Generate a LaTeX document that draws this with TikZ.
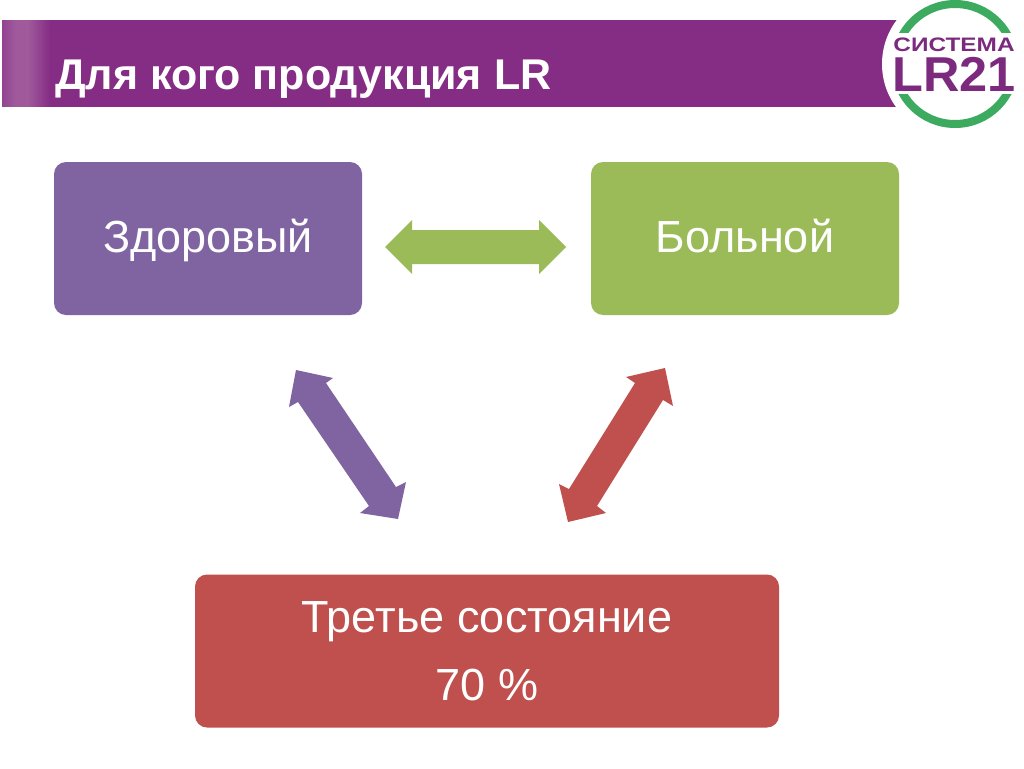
\documentclass[tikz,border=0pt]{standalone}
\usepackage{fontspec}
\setmainfont{Liberation Sans}
\definecolor{bannerc}{HTML}{852C84}
\definecolor{bannerl}{HTML}{A05A9C}
\definecolor{logotxt}{HTML}{7B2A7E}
\definecolor{purplebox}{HTML}{8064A2}
\definecolor{greenbox}{HTML}{9BBB59}
\definecolor{redbox}{HTML}{C0504D}
\definecolor{ringc}{HTML}{3CAA5F}
\tikzset{
 card/.style={rounded corners=12pt,text=white,inner sep=0pt,minimum height=153pt},
 cardtext/.style={font=\fontsize{45}{68}\selectfont,text height=32pt,text depth=5pt},
 logotext/.style={text=logotxt,inner sep=0pt,transform shape,text depth=0pt},
}
\begin{document}
\begin{tikzpicture}[x=1pt,y=-1pt]
\useasboundingbox (0,0) rectangle (1024,768);
\fill[white] (0,0) rectangle (1024,768);
% banner
\fill[bannerc] (2,20) rectangle (900,107);
\foreach \i in {2,...,49} {
  \pgfmathsetmacro\m{max(0,min(100,50+(\i-2)*3.6,(50-\i)*4.5))}
  \fill[bannerl!\m!bannerc] (\i,20) rectangle (\i+1.3,107);
}
\node[anchor=base west,text=white,font=\fontsize{43}{50}\selectfont\bfseries,inner sep=0pt] (title) at (55,89) {Для кого продукция LR};
% logo
\fill[white] (955,64) circle (73);
\begin{scope}
  \clip (880,-1) rectangle (1024,33) (880,94) rectangle (1024,130);
  \draw[ringc,line width=8pt] (955,64) circle (60);
\end{scope}
\node[logotext,anchor=base,xscale=1.25,font=\fontsize{19.5}{20}\selectfont\bfseries,text height=14pt] (lsys) at (954,52) {СИСТЕМА};
\node[logotext,anchor=base,xscale=1.03,font=\fontsize{49}{49}\selectfont\bfseries,text height=35pt] (llr) at (954,91) {LR21};
% boxes
\node[card,cardtext,fill=purplebox,minimum width=308pt] (a) at (208,238.5) {Здоровый};
\node[card,cardtext,fill=greenbox,minimum width=308pt] (b) at (745,238.5) {Больной};
\node[card,align=center,fill=redbox,minimum width=584pt,font=\fontsize{45}{68}\selectfont] (c) at (487,651) {Третье состояние\\70 \%};
% block arrows
\fill[greenbox] (385,247) -- (412,220) -- (412,230) -- (539,230) -- (539,220) -- (566,247) -- (539,274) -- (539,264) -- (412,264) -- (412,274) -- cycle;
\fill[purplebox] (296,370) -- (333,378) -- (326,383) -- (396,487) -- (406,482) -- (398,519) -- (360,513) -- (369,506) -- (298,402) -- (289,407) -- cycle;
\fill[redbox] (665,368) -- (673,406) -- (663,400) -- (597,506) -- (606,513) -- (568,522) -- (559,484) -- (569,489) -- (635,383) -- (626,377) -- cycle;
\end{tikzpicture}
\end{document}
